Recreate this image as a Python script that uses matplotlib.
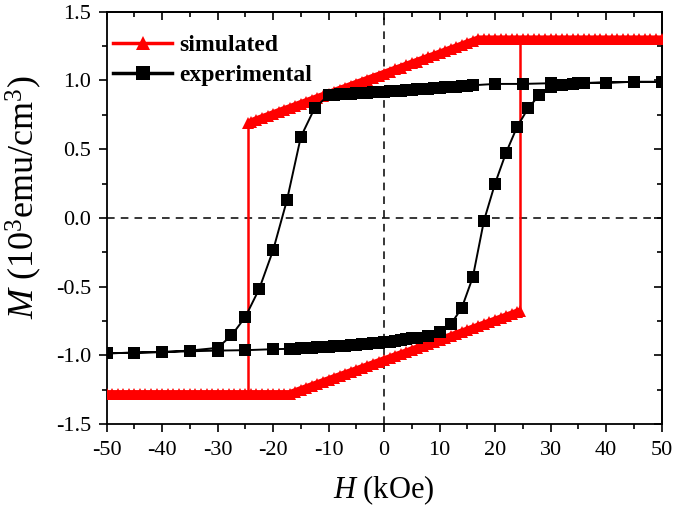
import matplotlib
matplotlib.use('Agg')
import matplotlib.pyplot as plt
from matplotlib.lines import Line2D
from matplotlib.ticker import MultipleLocator, FormatStrFormatter

plt.rcParams['font.family'] = ['Liberation Serif', 'DejaVu Serif']
plt.rcParams['mathtext.fontset'] = 'custom'
plt.rcParams['mathtext.rm'] = 'Liberation Serif'
plt.rcParams['mathtext.it'] = 'Liberation Serif:italic'
plt.rcParams['axes.unicode_minus'] = False

# simulated loop, descending branch (H from +50 down to the switching field)
sim_up_H = [50, 49, 48, 47, 46, 45, 44, 43, 42, 41, 40, 39, 38, 37, 36, 35, 34, 33, 32, 31,
            30, 29, 28, 27, 26, 25, 24, 23, 22, 21, 20, 19, 18, 17, 16, 15, 14, 13, 12, 11,
            10, 9, 8, 7, 6, 5, 4, 3, 2, 1, 0, -1, -2, -3, -4, -5, -6, -7, -8, -9,
            -10, -11, -12, -13, -14, -15, -16, -17, -18, -19, -20, -21, -22, -23, -24, -24.5]
sim_up_M = [1.30, 1.30, 1.30, 1.30, 1.30, 1.30, 1.30, 1.30, 1.30, 1.30, 1.30, 1.30, 1.30, 1.30, 1.30, 1.30, 1.30, 1.30, 1.30, 1.30,
            1.30, 1.30, 1.30, 1.30, 1.30, 1.30, 1.30, 1.30, 1.30, 1.30, 1.30, 1.30, 1.30, 1.30, 1.285, 1.271, 1.256, 1.241, 1.227, 1.212,
            1.197, 1.182, 1.168, 1.153, 1.138, 1.124, 1.109, 1.094, 1.080, 1.065, 1.050, 1.035, 1.021, 1.006, 0.991, 0.977, 0.962, 0.947, 0.933, 0.918,
            0.903, 0.888, 0.874, 0.859, 0.844, 0.830, 0.815, 0.800, 0.786, 0.771, 0.756, 0.741, 0.727, 0.712, 0.697, 0.690]

# simulated loop, ascending branch (H from -50 up to the switching field)
sim_dn_H = [-50, -49, -48, -47, -46, -45, -44, -43, -42, -41, -40, -39, -38, -37, -36, -35, -34, -33, -32, -31,
            -30, -29, -28, -27, -26, -25, -24, -23, -22, -21, -20, -19, -18, -17, -16, -15, -14, -13, -12, -11,
            -10, -9, -8, -7, -6, -5, -4, -3, -2, -1, 0, 1, 2, 3, 4, 5, 6, 7, 8, 9,
            10, 11, 12, 13, 14, 15, 16, 17, 18, 19, 20, 21, 22, 23, 24, 24.5]
sim_dn_M = [-1.28, -1.28, -1.28, -1.28, -1.28, -1.28, -1.28, -1.28, -1.28, -1.28, -1.28, -1.28, -1.28, -1.28, -1.28, -1.28, -1.28, -1.28, -1.28, -1.28,
            -1.28, -1.28, -1.28, -1.28, -1.28, -1.28, -1.28, -1.28, -1.28, -1.28, -1.28, -1.28, -1.28, -1.28, -1.266, -1.251, -1.237, -1.222, -1.208, -1.193,
            -1.179, -1.164, -1.150, -1.135, -1.121, -1.107, -1.092, -1.078, -1.063, -1.049, -1.034, -1.020, -1.005, -0.991, -0.977, -0.962, -0.948, -0.933, -0.919, -0.904,
            -0.890, -0.875, -0.861, -0.846, -0.832, -0.818, -0.803, -0.789, -0.774, -0.760, -0.745, -0.731, -0.716, -0.702, -0.687, -0.680]

# experimental loop: +50 -> -50 -> +50
exp_H = [50, 45, 40, 35, 30, 25, 20, 16, 15, 14, 13, 12, 11, 10, 9, 8, 7, 6, 5, 4, 3, 2, 1, 0,
         -1, -2, -3, -4, -5, -6, -7, -8, -9, -10, -12.5, -15, -17.5, -20, -22.5, -25, -27.5, -30,
         -35, -40, -45, -50,
         -45, -40, -35, -30, -25, -20, -17, -16, -15, -14, -13, -12, -11, -10, -9, -8, -7, -6,
         -5, -4, -3, -2, -1, 0, 1, 2, 3, 4, 5, 6, 8, 10, 12, 14, 16, 18, 20, 22, 24, 26, 28,
         30, 32, 34, 36, 40, 45, 50]
exp_M = [0.99, 0.99, 0.985, 0.98, 0.98, 0.975, 0.975, 0.965, 0.962, 0.959, 0.956, 0.953, 0.950, 0.947,
         0.944, 0.941, 0.938, 0.935, 0.932, 0.929, 0.926, 0.923, 0.920, 0.917,
         0.915, 0.913, 0.911, 0.909, 0.907, 0.905, 0.903, 0.900, 0.897, 0.893, 0.80, 0.59, 0.13, -0.235,
         -0.516, -0.72, -0.855, -0.945,
         -0.965, -0.975, -0.98, -0.985,
         -0.98, -0.976, -0.97, -0.965, -0.962, -0.955, -0.952, -0.950, -0.948, -0.946, -0.944, -0.942,
         -0.940, -0.937, -0.934, -0.931, -0.928, -0.925,
         -0.922, -0.919, -0.916, -0.912, -0.908, -0.904, -0.900, -0.895, -0.890, -0.884, -0.877, -0.870,
         -0.858, -0.83, -0.775, -0.655, -0.43, -0.02, 0.25, 0.476, 0.665, 0.80, 0.895,
         0.95, 0.97, 0.978, 0.982, 0.985, 0.99, 0.99]

red = '#ff0000'

fig = plt.figure(figsize=(6.75, 5.11), dpi=100)
ax = fig.add_axes([0.158, 0.170, 0.822, 0.807])

ax.axhline(0, color='black', lw=1.1, ls=(0, (5, 4)), zorder=1)
ax.axvline(0, color='black', lw=1.1, ls=(0, (5, 4)), zorder=1)

# switching jumps of the simulated loop
ax.plot([sim_up_H[-1], sim_up_H[-1]], [sim_up_M[-1], sim_dn_M[0]], color=red, lw=1.8, zorder=2)
ax.plot([sim_dn_H[-1], sim_dn_H[-1]], [sim_dn_M[-1], sim_up_M[0]], color=red, lw=1.8, zorder=2)

# dense triangles form the thick simulated band
for hh, mm in [(sim_up_H, sim_up_M), (sim_dn_H, sim_dn_M)]:
    ax.plot(hh, mm, '-', color=red, lw=5.5, solid_capstyle='butt', zorder=3)
    ax.plot(hh, mm, '^', color=red, ms=8, mew=0, zorder=3)

ax.plot(exp_H, exp_M, '-', color='black', lw=1.4, zorder=4)
ax.plot(exp_H, exp_M, 's', color='black', ms=8, mew=0, zorder=4)

ax.set_xlim(-50, 50)
ax.set_ylim(-1.5, 1.5)
ax.xaxis.set_major_locator(MultipleLocator(10))
ax.xaxis.set_minor_locator(MultipleLocator(5))
ax.yaxis.set_major_locator(MultipleLocator(0.5))
ax.yaxis.set_minor_locator(MultipleLocator(0.25))
ax.yaxis.set_major_formatter(FormatStrFormatter('%.1f'))
ax.tick_params(which='both', direction='out', width=1.2, labelsize=16)
ax.tick_params(axis='x', pad=6)
ax.tick_params(axis='y', pad=5)
ax.tick_params(which='major', length=6)
ax.tick_params(which='minor', length=3.5)
for s in ax.spines.values():
    s.set_linewidth(1.3)

top = ax.secondary_xaxis('top')
top.xaxis.set_major_locator(MultipleLocator(10))
top.xaxis.set_minor_locator(MultipleLocator(5))
top.tick_params(which='both', direction='in', width=1.2, labeltop=False)
top.tick_params(which='major', length=6)
top.tick_params(which='minor', length=3.5)
top.spines['top'].set_linewidth(1.3)

right = ax.secondary_yaxis('right')
right.yaxis.set_major_locator(MultipleLocator(0.5))
right.yaxis.set_minor_locator(MultipleLocator(0.25))
right.tick_params(which='both', direction='in', width=1.2, labelright=False)
right.tick_params(which='major', length=6)
right.tick_params(which='minor', length=3.5)
right.spines['right'].set_linewidth(1.3)

ax.set_xlabel(r'$H\ \mathrm{(kOe)}$', fontsize=22, labelpad=10)
ax.set_ylabel(r'$M\ \mathrm{(10^{3}emu/cm^{3})}$', fontsize=26)
ax.yaxis.set_label_coords(-0.113, 0.55)

sim_handle = Line2D([], [], color=red, lw=2.5, marker='^', ms=10, mew=0)
exp_handle = Line2D([], [], color='black', lw=2.5, marker='s', ms=10, mew=0)
ax.legend(handles=[sim_handle, exp_handle], labels=['simulated', 'experimental'],
          loc='upper left', frameon=False, numpoints=1,
          prop={'weight': 'bold', 'size': 17}, handlelength=2.5, handletextpad=0.3,
          labelspacing=0.35, borderaxespad=0.3, bbox_to_anchor=(-0.018, 0.985))

fig.savefig('out.png', dpi=100)
